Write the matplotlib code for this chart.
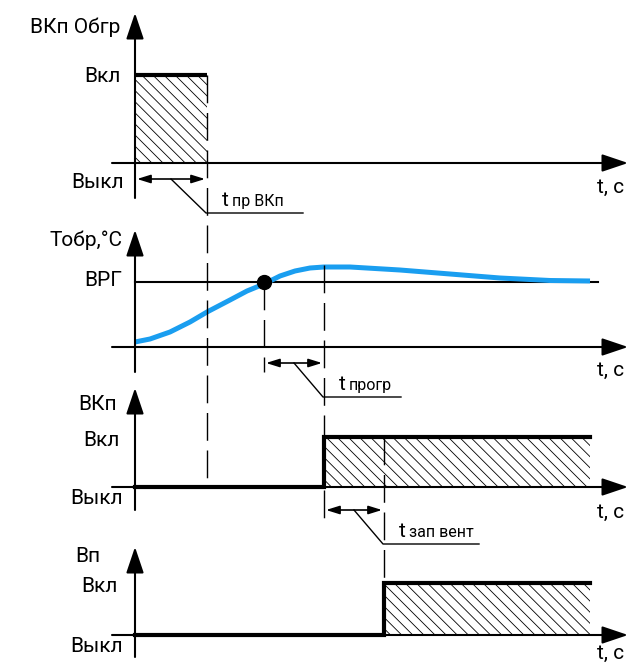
import matplotlib
matplotlib.use("Agg")
import matplotlib.pyplot as plt
from matplotlib.patches import Rectangle

plt.rcParams['font.family'] = ['Roboto', 'DejaVu Sans']
plt.rcParams['hatch.linewidth'] = 0.6
plt.rcParams['hatch.color'] = '#8a8a8a'

# moments on the time axis (arbitrary units, 0 = start)
t_obgr_off = 72      # ВКп Обгр switches off after t пр ВКп
t_vrg = 129          # Тобр reaches ВРГ
t_vkp_on = 189       # ВКп on after t прогр
t_vent_on = 249      # Вп on after t зап вент
t_end = 455
t_axis_end = 493

# return water temperature (ВРГ level = 65)
temp_vrg = 65
temp_t = [0, 15, 35, 55, 72, 95, 112, 129, 145, 160, 175, 189, 215, 265, 315, 365, 415, 455]
temp_v = [5, 8, 15, 25, 35, 47, 56, 63, 71, 76, 79, 80, 80, 77, 73, 69, 66.5, 66]

# states (0 = Выкл, 1 = Вкл)
obgr_t = [0, t_obgr_off]
obgr_s = [1, 1]
vkp_t = [0, t_vkp_on, t_vkp_on, t_end]
vkp_s = [0, 0, 1, 1]
vp_t = [0, t_vent_on, t_vent_on, t_end]
vp_s = [0, 0, 1, 1]

fig = plt.figure(figsize=(6.37, 6.65), dpi=100)
ax = fig.add_axes([0, 0, 1, 1])
ax.set_xlim(-135, 502)
ax.set_ylim(665, 0)
ax.axis('off')

# panel geometry in figure rows: baseline, "Вкл" height, arrow tip, axis bottom
base = [163, 347, 487, 635]
high = [88, 1, 50, 52]
tip = [13, 230, 388, 547]
bottom = [198, 372, 510, 657]
tlabel = [187, 370, 512, 653]

FS = 15
HATCH = '\\\\\\'
axis_kw = dict(arrowstyle='-|>,head_length=0.8,head_width=0.27', mutation_scale=20,
               lw=1.5, color='k', shrinkA=0, shrinkB=0)
dim_kw = dict(arrowstyle='<|-|>,head_length=0.9,head_width=0.28', mutation_scale=9,
              lw=1.2, color='k', shrinkA=0, shrinkB=0)


def level(i, s):
    return [base[i] - v * high[i] for v in s]


for i in range(4):
    ax.annotate('', xy=(t_axis_end, base[i]), xytext=(-23, base[i]), arrowprops=axis_kw)
    ax.annotate('', xy=(0, tip[i]), xytext=(0, bottom[i]), arrowprops=axis_kw)
    ax.text(462, tlabel[i], 't, с', fontsize=FS, ha='left', va='center')

# panel 1: ВКп Обгр
ax.add_patch(Rectangle((0, level(0, [1])[0]), t_obgr_off, high[0], fill=False,
                       hatch=HATCH, lw=0))
ax.plot(obgr_t, level(0, obgr_s), color='k', lw=3, solid_capstyle='butt')
ax.text(-15, 27, 'ВКп Обгр', fontsize=FS, ha='right', va='center')
ax.text(-14, 77, 'Вкл', fontsize=FS, ha='right', va='center')
ax.text(-11, 183, 'Выкл', fontsize=FS, ha='right', va='center')

# panel 2: Тобр
y_vrg = base[1] - temp_vrg
ax.plot([0, t_end + 8], [y_vrg, y_vrg], color='k', lw=1.5)
ax.plot(temp_t, [base[1] - v for v in temp_v], color='#1a9ef0', lw=3.6,
        solid_capstyle='butt')
ax.plot([t_vrg], [y_vrg], 'o', color='k', ms=10)
ax.text(-13, 240, 'Тобр,°С', fontsize=FS, ha='right', va='center')
ax.text(-13, 281, 'ВРГ', fontsize=FS, ha='right', va='center')

# panel 3: ВКп
ax.add_patch(Rectangle((t_vkp_on, level(2, [1])[0]), t_end - t_vkp_on, high[2],
                       fill=False, hatch=HATCH, lw=0))
ax.plot(vkp_t, level(2, vkp_s), color='k', lw=3, solid_joinstyle='miter')
ax.text(-18, 404, 'ВКп', fontsize=FS, ha='right', va='center')
ax.text(-15, 440, 'Вкл', fontsize=FS, ha='right', va='center')
ax.text(-12, 499, 'Выкл', fontsize=FS, ha='right', va='center')

# panel 4: Вп
ax.add_patch(Rectangle((t_vent_on, level(3, [1])[0]), t_end - t_vent_on, high[3],
                       fill=False, hatch=HATCH, lw=0))
ax.plot(vp_t, level(3, vp_s), color='k', lw=3, solid_joinstyle='miter')
ax.text(-35, 556, 'Вп', fontsize=FS, ha='right', va='center')
ax.text(-17, 587, 'Вкл', fontsize=FS, ha='right', va='center')
ax.text(-12, 646, 'Выкл', fontsize=FS, ha='right', va='center')

# dashed guide lines
dash_kw = dict(color='k', lw=1.0, dashes=(20, 7))
ax.plot([t_obgr_off, t_obgr_off], [level(0, [1])[0], base[2]], **dash_kw)
ax.plot([t_vrg, t_vrg], [y_vrg, 372], **dash_kw)
ax.plot([t_vkp_on, t_vkp_on], [265, 522], **dash_kw)
ax.plot([t_vent_on, t_vent_on], [level(2, [1])[0], level(3, [1])[0]], **dash_kw)

# interval marks with leaders
intervals = [
    (0, t_obgr_off, 179, 'пр ВКп', 97),
    (t_vrg, t_vkp_on, 363, 'прогр', 78),
    (t_vkp_on, t_vent_on, 510, 'зап вент', 96),
]
for a, b, y, sub, tail in intervals:
    ax.annotate('', xy=(b - 2, y), xytext=(a + 2, y), arrowprops=dim_kw)
    xm = (a + b) / 2
    ax.plot([xm, b - 1, b - 1 + tail], [y, y + 34, y + 34], color='k', lw=1.0)
    ax.text(b + 15, y + 27, 't', fontsize=FS, ha='left', va='baseline')
    ax.text(b + 25, y + 27, sub, fontsize=11.5, ha='left', va='baseline')

fig.savefig('out.png', dpi=100)
